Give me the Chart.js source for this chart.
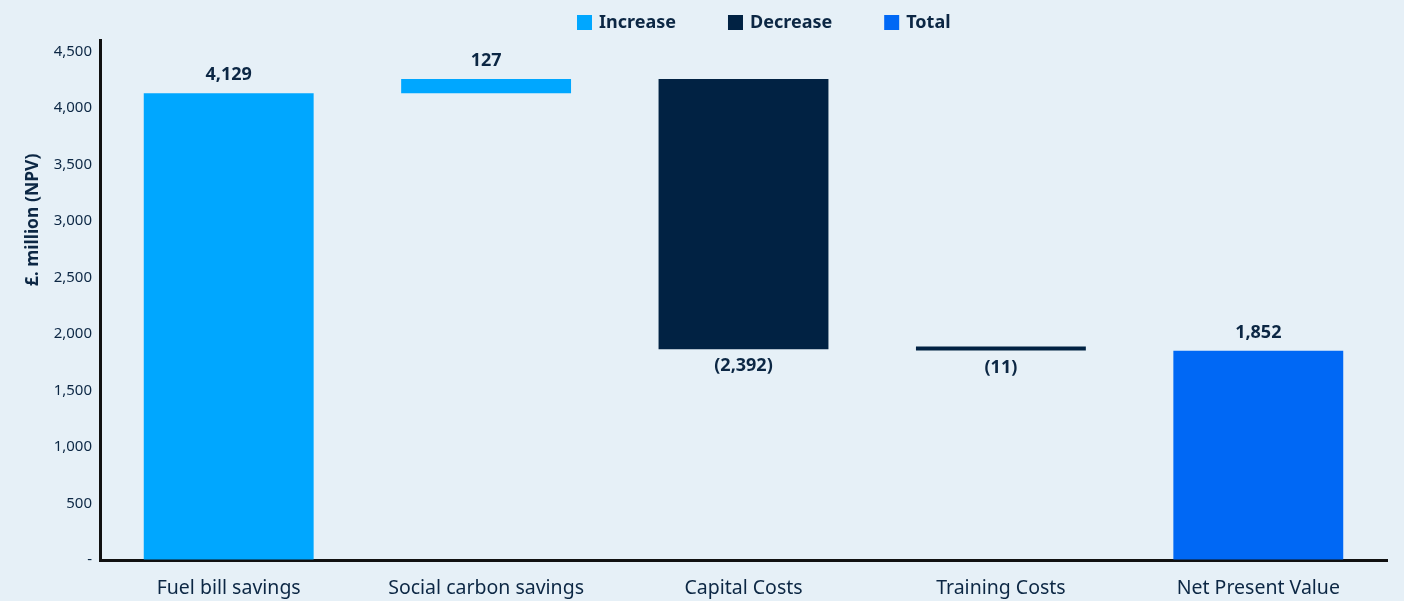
<!DOCTYPE html>
<html>
<head>
<meta charset="utf-8">
<script src="https://cdn.jsdelivr.net/npm/chart.js@4"></script>
<style>
  html, body { margin: 0; padding: 0; background: #e6f0f7; }
  #wrap { width: 1404px; height: 601px; position: relative; }
</style>
</head>
<body>
<div id="wrap"><canvas id="npvChart"></canvas></div>
<script>
// ── data ─────────────────────────────────────────
const categories = ['Fuel bill savings', 'Social carbon savings', 'Capital Costs', 'Training Costs', 'Net Present Value'];
const changes    = [4129, 127, -2392, -11, 1852];
const kinds      = ['increase', 'increase', 'decrease', 'decrease', 'total'];
const yTicks     = [0, 500, 1000, 1500, 2000, 2500, 3000, 3500, 4000, 4500];
const legendKeys = ['increase', 'decrease', 'total'];
const legendText = ['Increase', 'Decrease', 'Total'];

const colors = { increase: '#00a7ff', decrease: '#012243', total: '#0068f5' };
const textColor = '#0c2744';
const FONT = "'Noto Sans', 'Open Sans', sans-serif";

// running totals -> floating bars
let running = 0;
const bars = changes.map((v, i) => {
    if (kinds[i] === 'total') return [0, v];
    const start = running;
    running += v;
    return [start, running];
});

function fmtLabel(v) {
    const s = Math.abs(v).toLocaleString('en-GB');
    return v < 0 ? '(' + s + ')' : s;
}

const overlay = {
    id: 'overlay',
    afterDatasetsDraw(chart) {
        const ctx = chart.ctx;
        const meta = chart.getDatasetMeta(0);
        ctx.save();
        ctx.fillStyle = textColor;
        ctx.font = `bold 18px ${FONT}`;
        ctx.textAlign = 'center';
        meta.data.forEach((el, i) => {
            const top = Math.min(el.y, el.base);
            const bottom = Math.max(el.y, el.base);
            if (kinds[i] === 'decrease') {
                ctx.textBaseline = 'top';
                ctx.fillText(fmtLabel(changes[i]), el.x, bottom + 8);
            } else {
                ctx.textBaseline = 'bottom';
                ctx.fillText(fmtLabel(changes[i]), el.x, top - 9);
            }
        });
        ctx.restore();
    },
    afterDraw(chart) {
        const ctx = chart.ctx;
        ctx.save();
        // y axis title
        ctx.fillStyle = textColor;
        ctx.font = `bold 17.5px ${FONT}`;
        ctx.textAlign = 'center';
        ctx.textBaseline = 'middle';
        ctx.translate(33, 220);
        ctx.rotate(-Math.PI / 2);
        ctx.fillText('£. million (NPV)', 0, 0);
        ctx.restore();

        // legend
        ctx.save();
        ctx.font = `bold 18px ${FONT}`;
        ctx.textBaseline = 'middle';
        ctx.textAlign = 'left';
        let x = 577;
        legendKeys.forEach((k, i) => {
            ctx.fillStyle = colors[k];
            ctx.fillRect(x, 15, 15, 15);
            ctx.fillStyle = textColor;
            ctx.fillText(legendText[i], x + 22, 23);
            x += 22 + ctx.measureText(legendText[i]).width + 52;
        });
        ctx.restore();
    }
};

new Chart(document.getElementById('npvChart'), {
    type: 'bar',
    data: {
        labels: categories,
        datasets: [{
            data: bars,
            backgroundColor: kinds.map(k => colors[k]),
            borderWidth: 0,
            barPercentage: 0.66,
            categoryPercentage: 1,
            minBarLength: 4
        }]
    },
    options: {
        responsive: true,
        maintainAspectRatio: false,
        animation: false,
        layout: { padding: { top: 40, right: 17, left: 0, bottom: 0 } },
        plugins: {
            legend: { display: false },
            tooltip: { enabled: false }
        },
        scales: {
            x: {
                grid: { display: true, drawOnChartArea: false, drawTicks: false },
                border: { display: true, color: '#111', width: 3 },
                ticks: {
                    color: textColor,
                    font: { family: FONT, size: 19.5 },
                    padding: 17,
                    maxRotation: 0
                },
                afterFit(s) { s.height = 41; }
            },
            y: {
                min: 0,
                max: 4600,
                grid: { display: true, drawOnChartArea: false, drawTicks: false },
                border: { display: true, color: '#111', width: 3 },
                afterBuildTicks(s) { s.ticks = yTicks.map(v => ({ value: v })); },
                ticks: {
                    color: textColor,
                    font: { family: FONT, size: 15 },
                    padding: 8,
                    callback: v => v === 0 ? '-' : v.toLocaleString('en-GB')
                },
                afterFit(s) { s.width = 100; }
            }
        }
    },
    plugins: [overlay]
});
</script>
</body>
</html>
